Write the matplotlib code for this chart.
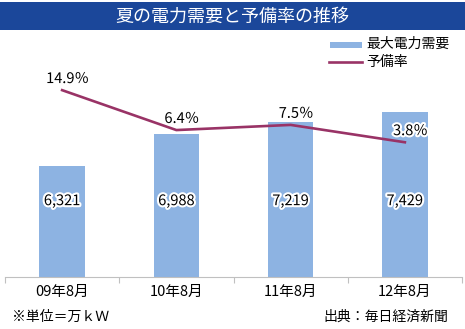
import matplotlib
matplotlib.use("Agg")
import matplotlib.pyplot as plt
import matplotlib.patheffects as pe
from matplotlib.patches import Rectangle
from matplotlib.lines import Line2D

plt.rcParams['font.family'] = ['Noto Sans CJK JP', 'DejaVu Sans']

# ---- data ----
categories = ["09年8月", "10年8月", "11年8月", "12年8月"]
demand = [6321, 6988, 7219, 7429]          # 万kW
reserve = [14.9, 6.4, 7.5, 3.8]            # %
demand_labels = ["6,321", "6,988", "7,219", "7,429"]
reserve_labels = ["14.9％", "6.4％", "7.5％", "3.8％"]
title = "夏の電力需要と予備率の推移"
legend_bar = "最大電力需要"
legend_line = "予備率"
note_left = "※単位＝万ｋＷ"
note_right = "出典：毎日経済新聞"

BAR_C = "#8db3e2"
LINE_C = "#993366"
TITLE_BG = "#1b479a"
W, H = 465, 329

fig = plt.figure(figsize=(W / 100, H / 100), dpi=100)
fig.patch.set_facecolor("white")

def fx(px):
    return px / W

def fy(py):
    return 1 - py / H

# title bar
fig.patches.append(Rectangle((0, fy(30)), 1, 28 / H, transform=fig.transFigure,
                             facecolor=TITLE_BG, edgecolor="none"))
fig.text(0.5, fy(16.5), title, color="white", fontsize=13, ha="center", va="center")

# axes
ax = fig.add_axes([fx(5), fy(277), fx(457), 192 / H])
x = list(range(len(categories)))
ax.bar(x, demand, width=0.40, color=BAR_C, zorder=2)
ax.set_xlim(-0.5, len(categories) - 0.5)
ax.set_ylim(4000, 8000)
for s in ["top", "left", "right"]:
    ax.spines[s].set_visible(False)
ax.spines["bottom"].set_color("#c0c0c0")
ax.spines["bottom"].set_linewidth(0.8)
ax.set_yticks([])
ax.set_xticks(x)
ax.set_xticklabels(categories, fontsize=10.5)
ax.tick_params(axis="x", which="major", length=0, pad=6)
ax.set_xticks([i - 0.5 for i in range(len(categories) + 1)], minor=True)
ax.tick_params(axis="x", which="minor", length=4, color="#c0c0c0", width=0.8, direction="out")

halo = [pe.withStroke(linewidth=3, foreground="white")]
for xi, lab in zip(x, demand_labels):
    ax.text(xi, 5580, lab, ha="center", va="center", fontsize=10.5, color="black",
            path_effects=halo, zorder=3)

ax2 = ax.twinx()
ax2.set_ylim(-24.9, 16.0)
for s in ["top", "left", "right", "bottom"]:
    ax2.spines[s].set_visible(False)
ax2.set_yticks([])
ax2.plot(x, reserve, color=LINE_C, linewidth=1.9, solid_joinstyle="round", zorder=3)
for xi, v, lab in zip(x, reserve, reserve_labels):
    ax2.annotate(lab, (xi, v), xytext=(4, 8), textcoords="offset points",
                 ha="center", va="center", fontsize=10.5, color="black",
                 path_effects=halo, zorder=4)

# legend (manual)
fig.patches.append(Rectangle((fx(330), fy(47.5)), fx(32), 6 / H, transform=fig.transFigure,
                             facecolor=BAR_C, edgecolor="none"))
fig.text(fx(366), fy(44), legend_bar, fontsize=10, ha="left", va="center")
fig.lines.append(Line2D([fx(329), fx(362)], [fy(62), fy(62)], transform=fig.transFigure,
                        color=LINE_C, linewidth=1.9))
fig.text(fx(366), fy(62), legend_line, fontsize=10, ha="left", va="center")

# footer
fig.text(fx(12), fy(317), note_left, fontsize=10, ha="left", va="center")
fig.text(fx(448), fy(317), note_right, fontsize=10, ha="right", va="center")

fig.savefig("out.png", dpi=100, facecolor="white")
